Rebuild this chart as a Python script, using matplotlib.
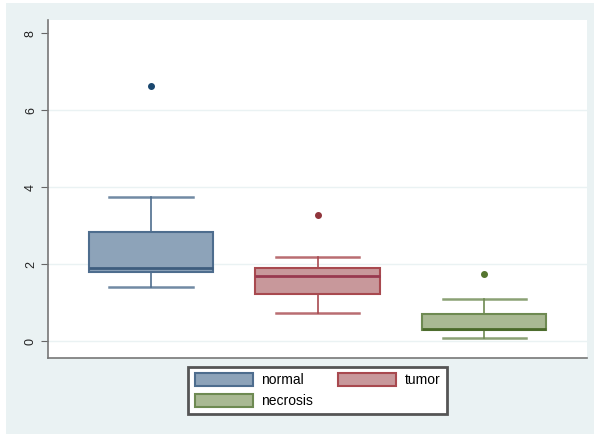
import matplotlib
matplotlib.use('Agg')
import matplotlib.pyplot as plt
from matplotlib.patches import Patch, Rectangle

# summary stats per tissue group
groups = ['normal', 'tumor', 'necrosis']
whislo = [1.40, 0.74, 0.09]
q1 = [1.79, 1.21, 0.29]
med = [1.90, 1.70, 0.32]
q3 = [2.83, 1.91, 0.69]
whishi = [3.74, 2.18, 1.08]
fliers = [[6.62], [3.27], [1.74]]
yticks = [0, 2, 4, 6, 8]

fills = ['#8DA3B9', '#C8989B', '#A9B993']
edges = ['#4E6D8E', '#A8494F', '#6E8A52']
meds = ['#3E5D7E', '#98394F', '#4A6A2A']
dots = ['#1A476F', '#90353B', '#55752F']

plt.rcParams['font.family'] = ['Liberation Sans', 'DejaVu Sans']
fig = plt.figure(figsize=(5.94, 4.34), dpi=100)
fig.patch.set_facecolor('white')
fig.add_artist(Rectangle((6/594, 0), 1, 1 - 3/434, transform=fig.transFigure,
                         facecolor='#EAF2F3', edgecolor='none', zorder=-10))

ax = fig.add_axes([48/594, 1 - 358/434, (587 - 48)/594, (358 - 20)/434])
ax.set_facecolor('white')

for i, g in enumerate(groups):
    st = [{'whislo': whislo[i], 'q1': q1[i], 'med': med[i], 'q3': q3[i],
           'whishi': whishi[i], 'fliers': fliers[i], 'label': g}]
    ax.bxp(st, positions=[i], widths=0.745, capwidths=0.5, patch_artist=True,
           boxprops=dict(facecolor=fills[i], edgecolor=edges[i], linewidth=1.5),
           medianprops=dict(color=meds[i], linewidth=2),
           whiskerprops=dict(color=edges[i], linewidth=1.2),
           capprops=dict(color=edges[i], linewidth=1.8, alpha=0.8),
           flierprops=dict(marker='o', markersize=4, markerfacecolor=dots[i],
                           markeredgecolor=dots[i]))

ax.set_xlim(-0.617, 2.617)
ax.set_ylim(-0.44, 8.34)
ax.set_xticks([])
ax.set_yticks(yticks)
ax.set_yticklabels([str(t) for t in yticks], rotation=90, va='center', fontsize=9)
ax.tick_params(axis='y', length=5, color='#666666', labelcolor='#222222', pad=3)
for t in yticks[:-1]:
    ax.axhline(t, color='#EAF2F3', linewidth=1, zorder=0)
for s in ['top', 'right']:
    ax.spines[s].set_visible(False)
for s in ['left', 'bottom']:
    ax.spines[s].set_color('#777777')
    ax.spines[s].set_linewidth(1.2)

# legend fills column-first, so order handles to read row-wise
order = [0, 2, 1]
handles = [Patch(facecolor=fills[i], edgecolor=edges[i], linewidth=1.5, label=groups[i])
           for i in order]
leg = fig.legend(handles=handles, ncol=2, loc='center',
                 bbox_to_anchor=((186 + 449) / 2 / 594, 1 - (365 + 416) / 2 / 434),
                 fontsize=10, handlelength=4.2, handleheight=1.1, columnspacing=1.8,
                 handletextpad=0.6, labelspacing=0.45, borderpad=0.45,
                 fancybox=False, framealpha=1)
leg.get_frame().set_edgecolor('#555555')
leg.get_frame().set_linewidth(2)

fig.savefig('out.png', dpi=100)
